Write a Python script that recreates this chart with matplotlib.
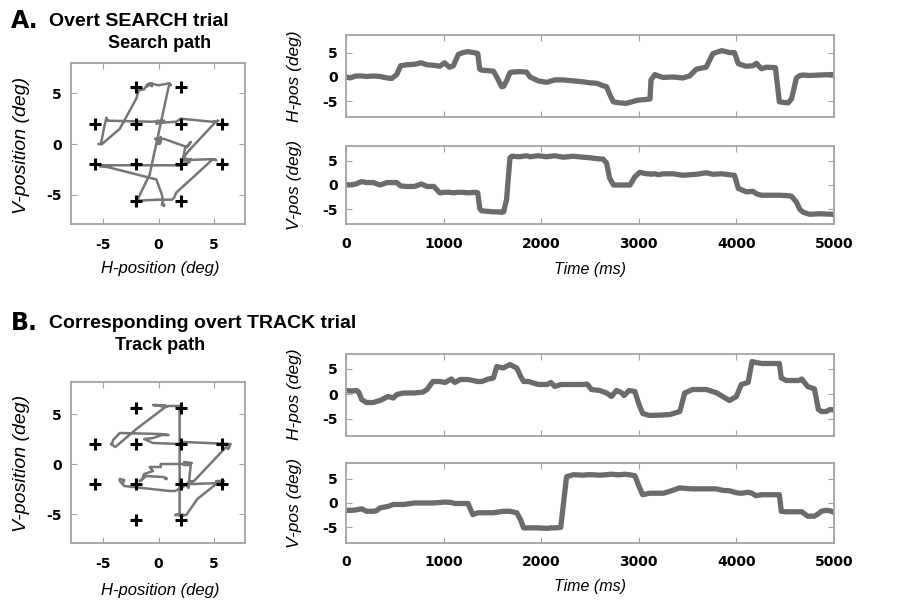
import matplotlib
matplotlib.use('Agg')
import matplotlib.pyplot as plt

# eye position samples (ms, deg)
search_t = [0, 40, 100, 160, 210, 280, 350, 420, 470, 520,
            560, 620, 700, 770, 830, 900, 960, 1010, 1060, 1100,
            1150, 1200, 1250, 1330, 1350, 1370, 1390, 1450, 1510, 1545,
            1595, 1615, 1645, 1680, 1700, 1780, 1850, 1885, 1970, 2055,
            2140, 2225, 2330, 2430, 2500, 2570, 2635, 2670, 2700, 2740,
            2800, 2870, 2910, 2960, 3010, 3080, 3115, 3125, 3165, 3200,
            3250, 3350, 3450, 3520, 3590, 3690, 3760, 3850, 3930, 3980,
            4020, 4100, 4170, 4205, 4255, 4310, 4400, 4440, 4530, 4565,
            4615, 4650, 4685, 4750, 4850, 4990, 5000]
search_h = [0.0, -0.2, 0.2, 0.2, 0.1, 0.2, 0.1, -0.2, -0.3, 0.5,
            2.3, 2.5, 2.6, 2.9, 2.5, 2.4, 2.2, 2.9, 2.0, 2.3,
            4.6, 5.0, 5.2, 4.9, 4.8, 1.6, 1.4, 1.3, 1.2, 0.0,
            -2.0, -1.9, -0.8, 0.9, 1.0, 1.1, 1.0, 0.0, -0.8, -1.1,
            -0.6, -0.6, -0.8, -1.0, -1.2, -1.3, -1.8, -2.0, -3.5, -5.1,
            -5.3, -5.4, -5.2, -4.9, -4.7, -4.6, -4.5, -0.6, 0.5, 0.2,
            -0.1, 0.0, -0.2, 0.2, 1.6, 2.0, 4.8, 5.4, 5.0, 5.0,
            2.7, 2.2, 2.3, 2.8, 1.7, 2.0, 1.9, -5.1, -5.3, -4.5,
            -0.2, 0.3, 0.4, 0.3, 0.4, 0.5, 0.5]
search_v = [0.1, 0.0, 0.2, 0.7, 0.5, 0.5, 0.0, 0.5, 0.5, 0.5,
            -0.2, -0.3, -0.3, 0.2, -0.3, -0.3, -1.6, -1.5, -1.5, -1.6,
            -1.5, -1.5, -1.6, -1.5, -1.6, -4.8, -5.3, -5.4, -5.5, -5.5,
            -5.6, -5.5, -3.0, 5.6, 5.9, 5.8, 6.0, 5.8, 6.0, 5.8,
            6.0, 5.7, 5.9, 5.7, 5.6, 5.4, 5.3, 4.5, 1.5, 0.0,
            0.0, 0.0, 0.0, 1.7, 2.6, 2.3, 2.3, 2.2, 2.3, 2.1,
            2.3, 2.3, 2.0, 2.1, 2.2, 2.5, 2.2, 2.3, 2.1, 2.0,
            -0.7, -1.4, -1.3, -1.8, -2.1, -2.1, -2.1, -2.1, -2.2, -2.3,
            -3.5, -5.0, -5.6, -6.0, -5.9, -6.0, -6.1]

track_t = [0, 60, 110, 130, 160, 210, 280, 310, 350, 430,
           485, 520, 590, 700, 790, 830, 890, 960, 1015, 1080,
           1115, 1170, 1250, 1300, 1350, 1390, 1460, 1510, 1545, 1610,
           1680, 1750, 1790, 1820, 1870, 1970, 2060, 2100, 2140, 2200,
           2260, 2330, 2430, 2470, 2515, 2600, 2670, 2720, 2770, 2820,
           2850, 2900, 2960, 3000, 3040, 3110, 3250, 3320, 3420, 3470,
           3550, 3690, 3790, 3860, 3930, 4000, 4050, 4120, 4160, 4200,
           4260, 4440, 4460, 4510, 4640, 4670, 4730, 4800, 4840, 4870,
           4920, 4960, 5000]
track_h = [0.7, 0.6, 0.7, 0.4, -1.1, -1.7, -1.7, -1.5, -1.3, -0.5,
           -0.8, -0.1, 0.2, 0.2, 0.4, 0.9, 2.5, 2.5, 2.3, 3.0,
           2.3, 2.9, 2.9, 2.7, 2.5, 2.5, 3.0, 3.2, 5.5, 5.2,
           5.9, 5.2, 3.5, 2.5, 2.5, 1.9, 1.9, 2.3, 1.5, 1.9,
           1.9, 1.9, 1.9, 2.0, 0.9, 0.7, 0.2, -0.5, 0.7, 0.3,
           -0.3, 0.7, 0.5, -2.0, -3.9, -4.3, -4.2, -4.1, -3.5, 0.2,
           0.9, 0.9, 0.3, -0.5, -1.3, -0.5, 1.9, 2.3, 6.5, 6.3,
           6.1, 6.1, 3.2, 2.7, 2.7, 3.0, 1.5, 1.0, -3.1, -3.5,
           -3.5, -3.1, -3.2]
track_v = [-1.5, -1.5, -1.4, -1.3, -1.2, -1.7, -1.7, -1.6, -1.0, -0.7,
           -0.3, -0.3, -0.3, 0.0, 0.0, 0.0, 0.0, 0.1, 0.2, 0.1,
           -0.1, -0.1, -0.1, -2.4, -2.0, -2.0, -2.0, -2.0, -1.9, -1.7,
           -1.7, -2.0, -3.5, -5.1, -5.1, -5.1, -5.2, -5.1, -5.1, -5.0,
           5.4, 5.8, 5.7, 5.8, 5.8, 5.7, 5.8, 5.9, 5.8, 5.8,
           5.9, 5.8, 5.6, 3.5, 1.7, 2.0, 2.0, 2.4, 3.1, 3.0,
           2.9, 2.9, 2.9, 2.6, 2.5, 2.1, 2.0, 2.2, 2.0, 1.5,
           1.7, 1.7, -1.7, -1.8, -1.8, -1.8, -2.7, -2.7, -2.2, -1.7,
           -1.5, -1.6, -1.9]

# target crosses (deg)
target_x = [-2, 2, -5.7, -2, 2, 5.7, -5.7, -2, 2, 5.7, -2, 2]
target_y = [5.6, 5.6, 2, 2, 2, 2, -2, -2, -2, -2, -5.6, -5.6]

pos_ticks = [-5, 0, 5]
time_ticks = [0, 1000, 2000, 3000, 4000, 5000]

W, H = 898, 602
TRACE = '#6b6b6b'
PATH = '#767676'
SPINE = '#a3a3a3'
LBL = 'Liberation Sans'

plt.rcParams['font.family'] = 'DejaVu Sans'
plt.rcParams['font.weight'] = 'bold'
plt.rcParams['axes.unicode_minus'] = False

fig = plt.figure(figsize=(W / 100, H / 100), dpi=100)


def box(x0, y0, x1, y1):
    return [x0 / W, 1 - y1 / H, (x1 - x0) / W, (y1 - y0) / H]


def style(ax, xpad, ypad):
    for s in ax.spines.values():
        s.set_color(SPINE)
        s.set_linewidth(1.3)
    ax.tick_params(direction='in', length=4, width=0.8, color=SPINE,
                   top=True, right=True, labelsize=10)
    ax.tick_params(axis='x', pad=xpad)
    ax.tick_params(axis='y', pad=ypad)


def text(x, y, s, **kw):
    kw.setdefault('family', LBL)
    kw.setdefault('va', 'center')
    fig.text(x / W, 1 - y / H, s, **kw)


def path_panel(rect, xs, ys, ylim):
    ax = fig.add_axes(box(*rect))
    ax.plot(xs, ys, color=PATH, lw=1.8)
    ax.plot(target_x, target_y, '+', color='black', ms=8.5, mew=2.2)
    ax.set_xlim(-7.9, 7.8)
    ax.set_ylim(*ylim)
    ax.set_xticks(pos_ticks)
    ax.set_yticks(pos_ticks)
    style(ax, 10, 6.5)
    return ax


def trace_panel(rect, t, ys, ylim, xlabels):
    ax = fig.add_axes(box(*rect))
    ax.plot(t, ys, color=TRACE, lw=3.8, solid_capstyle='round',
            solid_joinstyle='round')
    ax.set_xlim(0, 5000)
    ax.set_ylim(*ylim)
    ax.set_xticks(time_ticks)
    ax.set_yticks(pos_ticks)
    if not xlabels:
        ax.set_xticklabels([])
    style(ax, 9, 6)
    return ax


# A. search trial
path_panel((71, 63, 245, 224), search_h, search_v, (-7.9, 8.0))
trace_panel((346, 35, 834, 117), search_t, search_h, (-8.2, 8.6), False)
trace_panel((346, 146, 834, 224), search_t, search_v, (-8, 8), True)

# B. track trial
path_panel((71, 382, 245, 543), track_h, track_v, (-7.9, 8.2))
trace_panel((346, 354, 834, 436), track_t, track_h, (-8.4, 8), False)
trace_panel((346, 463, 834, 543), track_t, track_v, (-8.2, 8.2), True)

for y0, letter, title, sub in [(0, 'A.', 'Overt SEARCH trial', 'Search path'),
                               (302, 'B.', 'Corresponding overt TRACK trial', 'Track path')]:
    text(11, y0 + 21, letter, family='DejaVu Sans', fontsize=17, weight='bold')
    text(49, y0 + 21, title, fontsize=14, weight='bold')
    text(160, y0 + 43, sub, fontsize=13, weight='bold', ha='center')

for yc, yl in [(145, 268), (463, 590)]:
    text(22, yc, 'V-position (deg)', fontsize=14, style='italic',
         weight='normal', rotation=90, ha='center')
    text(160, yl, 'H-position (deg)', fontsize=12, style='italic',
         weight='normal', ha='center')

for yc, lab in [(76, 'H-pos (deg)'), (185, 'V-pos (deg)'),
                (394, 'H-pos (deg)'), (503, 'V-pos (deg)')]:
    text(295, yc, lab, fontsize=12.5, style='italic', weight='normal',
         rotation=90, ha='center')

for yl in [270, 587]:
    text(590, yl, 'Time (ms)', fontsize=11.5, style='italic',
         weight='normal', ha='center')

fig.savefig('out.png', dpi=100)
